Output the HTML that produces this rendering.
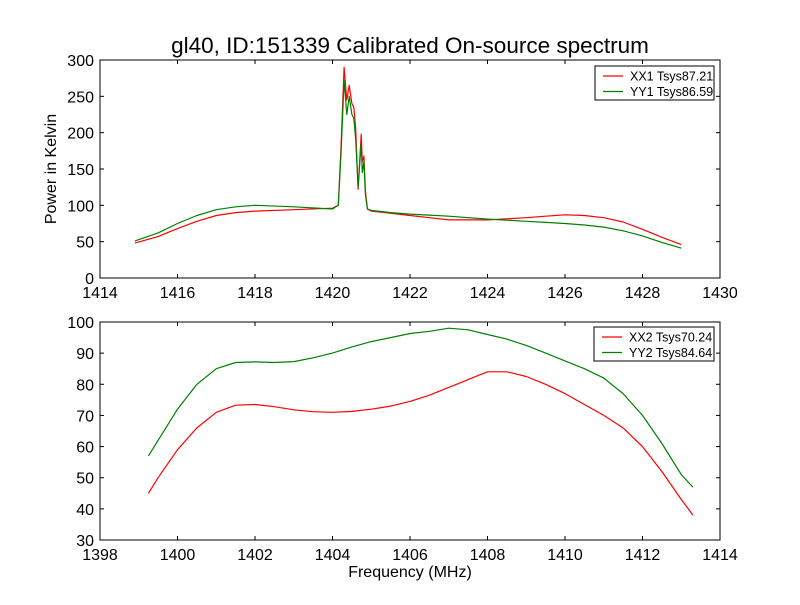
<!DOCTYPE html>
<html><head><meta charset="utf-8"><style>
body{margin:0;background:#fff;width:800px;height:600px;overflow:hidden}
svg text{font-family:"Liberation Sans","DejaVu Sans",sans-serif}
</style></head><body>
<svg id="chart" width="800" height="600"></svg>
<script>
const topFreqXX1=[1414.9,1415.5,1416,1416.5,1417,1417.5,1418,1419,1420,1420.15,1420.22,1420.3,1420.37,1420.43,1420.5,1420.55,1420.6,1420.66,1420.74,1420.77,1420.81,1420.85,1420.9,1421,1421.5,1422,1422.5,1423,1424,1425,1425.5,1426,1426.5,1427,1427.5,1428,1428.5,1429];
const topXX1=[48,57,68,78,86,90,92,94,96,100,180,290,245,265,240,235,205,122,198,160,168,120,95,92,89,86,83,80,80,83,85,87,86,83,77,67,56,46];
const topYY1=[51,62,75,86,94,98,100,98,95,100,170,272,225,250,225,220,190,125,185,145,160,115,95,93,90,88,86.5,85,81,78,76.5,75,73,70,65,58,49,41];
const botFreq=[1399.25,1399.5,1400,1400.5,1401,1401.5,1402,1402.5,1403,1403.5,1404,1404.5,1405,1405.5,1406,1406.5,1407,1407.5,1408,1408.5,1409,1409.5,1410,1410.5,1411,1411.5,1412,1412.5,1413,1413.3];
const botXX2=[45,50,59,66,71,73.3,73.5,72.8,71.8,71.2,71,71.3,72,73,74.5,76.5,79,81.5,84,84,82.5,80,77,73.5,70,66,60,52,43,38];
const botYY2=[57,62,72,80,85,87,87.2,87,87.3,88.5,90,92,93.7,95,96.3,97,98,97.5,96,94.5,92.5,90,87.5,85,82,77,70,61,51,47];
const topXTicks=[1414,1416,1418,1420,1422,1424,1426,1428,1430];
const topYTicks=[0,50,100,150,200,250,300];
const botXTicks=[1398,1400,1402,1404,1406,1408,1410,1412,1414];
const botYTicks=[30,40,50,60,70,80,90,100];

const NS="http://www.w3.org/2000/svg";
const svg=document.getElementById('chart');
function mk(tag,attrs,parent){const e=document.createElementNS(NS,tag);for(const k in attrs)e.setAttribute(k,attrs[k]);(parent||svg).appendChild(e);return e;}

function panel(name,box,xd,yd,xt,yt,series,legend){
  const g=mk('g',{});
  
  
  const sx=v=>box.x+(v-xd[0])/(xd[1]-xd[0])*box.w;
  const sy=v=>box.y+box.h-(v-yd[0])/(yd[1]-yd[0])*box.h;
  series.forEach(s=>{
    const p=mk('polyline',{points:s.xs.map((x,i)=>sx(x).toFixed(1)+','+sy(s.ys[i]).toFixed(1)).join(' '),fill:'none',stroke:s.color,'stroke-width':1.2,'stroke-linejoin':'round'},g);
    
    
  });
  const frame=mk('rect',{x:box.x,y:box.y,width:box.w,height:box.h,fill:'none',stroke:'#000','stroke-width':1},g);
  
  
  xt.forEach(v=>{
    const X=sx(v);
    mk('line',{x1:X,x2:X,y1:box.y+box.h,y2:box.y+box.h-4,stroke:'#000'},g);
    mk('line',{x1:X,x2:X,y1:box.y,y2:box.y+4,stroke:'#000'},g);
    const t=mk('text',{x:X,y:box.y+box.h+20,'text-anchor':'middle','font-size':16},g);
    t.textContent=v;
    
    
  });
  yt.forEach(v=>{
    const Y=sy(v);
    mk('line',{x1:box.x,x2:box.x+4,y1:Y,y2:Y,stroke:'#000'},g);
    mk('line',{x1:box.x+box.w,x2:box.x+box.w-4,y1:Y,y2:Y,stroke:'#000'},g);
    const t=mk('text',{x:box.x-6,y:Y+6,'text-anchor':'end','font-size':16},g);
    t.textContent=v;
    
    
  });
  const lg=mk('g',{},g);
  
  
  mk('rect',{x:legend.x,y:legend.y,width:legend.w,height:34,fill:'#fff',stroke:'#000','stroke-width':1},lg);
  series.forEach((s,i)=>{
    const yy=legend.y+10+i*15.5;
    mk('line',{x1:legend.x+8,x2:legend.x+28,y1:yy,y2:yy,stroke:s.color,'stroke-width':1.2},lg);
    const t=mk('text',{x:legend.x+35,y:yy+4.5,'font-size':12.5},lg);
    t.textContent=s.label;
    
    
  });
}
panel('top-panel',{x:100,y:60,w:620,h:218},[1414,1430],[0,300],topXTicks,topYTicks,
 [{xs:topFreqXX1,ys:topXX1,color:'#ff0000',name:'xx1-line',label:'XX1 Tsys87.21'},
  {xs:topFreqXX1,ys:topYY1,color:'#008000',name:'yy1-line',label:'YY1 Tsys86.59'}],{x:595,y:66,w:119});
panel('bottom-panel',{x:100,y:322,w:620,h:218},[1398,1414],[30,100],botXTicks,botYTicks,
 [{xs:botFreq,ys:botXX2,color:'#ff0000',name:'xx2-line',label:'XX2 Tsys70.24'},
  {xs:botFreq,ys:botYY2,color:'#008000',name:'yy2-line',label:'YY2 Tsys84.64'}],{x:594,y:327,w:120});
let t=mk('text',{x:410,y:53,'text-anchor':'middle','font-size':22.5});
t.textContent='gl40, ID:151339 Calibrated On-source spectrum';


t=mk('text',{x:56,y:169,'text-anchor':'middle','font-size':16,transform:'rotate(-90 56 169)'});
t.textContent='Power in Kelvin';


t=mk('text',{x:410,y:577,'text-anchor':'middle','font-size':16});
t.textContent='Frequency (MHz)';


</script>
</body></html>
